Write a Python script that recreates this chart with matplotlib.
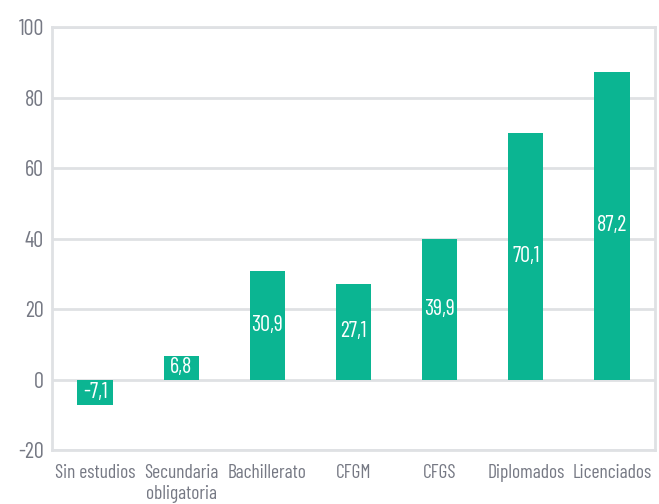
import matplotlib.pyplot as plt

categorias = ["Sin estudios", "Secundaria\nobligatoria", "Bachillerato", "CFGM",
              "CFGS", "Diplomados", "Licenciados"]
valores = [-7.1, 6.8, 30.9, 27.1, 39.9, 70.1, 87.2]
etiquetas = ["-7,1", "6,8", "30,9", "27,1", "39,9", "70,1", "87,2"]
yticks = [-20, 0, 20, 40, 60, 80, 100]

plt.rcParams['font.family'] = ['Barlow Condensed', 'DejaVu Sans']

verde = "#0bb592"
gris = "#dfe1e4"
texto = "#767984"

fig = plt.figure(figsize=(6.59, 5.04), dpi=100)
ax = fig.add_axes([0.079, 0.107, 0.915, 0.839])

x = range(len(categorias))
ax.bar(x, valores, width=0.41, color=verde, zorder=3)
for i, v in enumerate(valores):
    ax.text(i, v / 2, etiquetas[i], ha="center", va="center", color="white",
            fontsize=16, zorder=4)

ax.set_xlim(-0.5, len(categorias) - 0.5)
ax.set_ylim(-20, 100)
ax.set_yticks(yticks)
ax.set_yticklabels([str(t) for t in yticks], fontsize=16, color=texto)
ax.set_xticks(list(x))
ax.set_xticklabels(categorias, fontsize=14, color=texto, linespacing=1.25)
ax.tick_params(length=0, pad=6)
ax.tick_params(axis="x", pad=10)
ax.grid(axis="y", color=gris, linewidth=2, zorder=0)
for s in ax.spines.values():
    s.set_color(gris)
    s.set_linewidth(2)

fig.savefig("out.png", dpi=100)
